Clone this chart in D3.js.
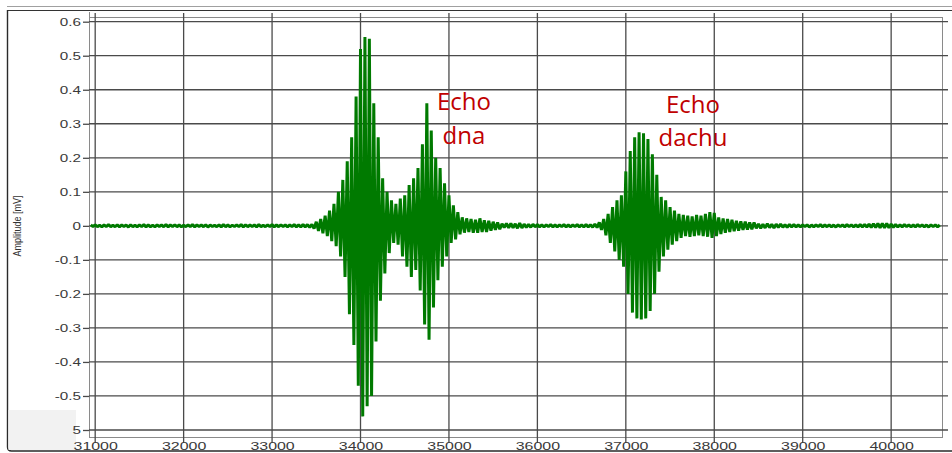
<!DOCTYPE html>
<html>
<head>
<meta charset="utf-8">
<script src="https://cdn.jsdelivr.net/npm/d3@7/dist/d3.min.js"></script>
<style>
  html, body { margin: 0; padding: 0; background: #fff; }
  svg { display: block; }
</style>
</head>
<body>
<svg id="chart" width="952" height="453"></svg>
<script>
// ---- Axis ticks -------------------------------------------------------
const xTicks = [31000, 32000, 33000, 34000, 35000, 36000, 37000, 38000, 39000, 40000];
const xTickLabels = ["31000", "32000", "33000", "34000", "35000", "36000", "37000", "38000", "39000", "40000"];
const yTicks = [0.6, 0.5, 0.4, 0.3, 0.2, 0.1, 0, -0.1, -0.2, -0.3, -0.4, -0.5, -0.6];
const yTickLabels = ["0.6", "0.5", "0.4", "0.3", "0.2", "0.1", "0", "-0.1", "-0.2", "-0.3", "-0.4", "-0.5", "5"];
const yTitle = "Amplitude [mV]";

// ---- Received signal: alternating peak samples (mV) ------------------
const sampleStart = 30950;
const sampleStep = 25;

const noiseBefore = [
  0.0025,-0.002,0.003,-0.0025,0.002,-0.003,0.0025,-0.002,0.0035,-0.0025,0.002,-0.0025,0.003,-0.003,0.0025,-0.002,0.0025,-0.0035,0.003,-0.0025,
  0.002,-0.0025,0.0025,-0.002,0.0035,-0.003,0.0025,-0.0025,0.002,-0.003,0.003,-0.002,0.0025,-0.0025,0.004,-0.003,0.0025,-0.002,0.003,-0.0025,
  0.0025,-0.003,0.002,-0.0025,0.003,-0.0025,0.0035,-0.003,0.0025,-0.002,0.0025,-0.0025,0.003,-0.0035,0.0025,-0.002,0.002,-0.0025,0.003,-0.003,
  0.0035,-0.0025,0.0025,-0.003,0.002,-0.002,0.003,-0.0025,0.004,-0.0035,0.003,-0.0025,0.0025,-0.002,0.0025,-0.003,0.0035,-0.0025,0.002,-0.0025,
  0.003,-0.0025,0.0035,-0.003,0.0025,-0.0025,0.003,-0.002,0.0025,-0.003,0.003,-0.0025,0.0035,-0.003,0.003,-0.0035,0.004,-0.003,0.0035,-0.004,0.004
];
const transmitPulse = [
  -0.008,0.012,-0.015,0.02,-0.022,0.03,-0.03,0.045,-0.045,0.065,
  -0.06,0.1,-0.09,0.135,-0.15,0.19,-0.26,0.26,-0.35,0.38,
  -0.47,0.52,-0.56,0.555,-0.53,0.55,-0.5,0.36,-0.34,0.26,
  -0.22,0.14,-0.14,0.1,-0.08,0.075,-0.05,0.065,-0.055,0.08
];
const bottomEcho = [
  -0.09,0.09,-0.12,0.12,-0.15,0.14,-0.13,0.17,-0.19,0.24,
  -0.29,0.36,-0.335,0.28,-0.24,0.2,-0.16,0.17,-0.12,0.125,
  -0.09,0.09,-0.05,0.06,-0.04,0.04,-0.025,0.025,-0.02,0.022
];
const bottomTail = [
  -0.018,0.02,-0.02,0.018,-0.02,0.022,-0.018,0.016,-0.018,0.015,-0.014,0.012,-0.012,0.01,-0.01
];
const noiseBetween = [
  0.006,-0.005,0.007,-0.006,0.007,-0.006,0.006,-0.007,0.008,-0.006,
  0.005,-0.0045,0.004,-0.004,0.0045,-0.003,0.0035,-0.003,0.003,-0.0035,
  0.003,-0.0025,0.0035,-0.003,0.0025,-0.003,0.003,-0.0025,0.0035,-0.003,
  0.0025,-0.003,0.003,-0.0025,0.0035,-0.003,0.003,-0.0035,0.004,-0.0035,
  0.0035,-0.004,0.005,-0.005
];
const roofEcho = [
  0.01,-0.012,0.02,-0.028,0.035,-0.05,0.055,-0.075,0.075,-0.1,
  0.09,-0.12,0.16,-0.2,0.22,-0.255,0.26,-0.272,0.275,-0.275,
  0.272,-0.272,0.255,-0.25,0.21,-0.2,0.15,-0.135,0.085,-0.09,
  0.075,-0.07,0.055,-0.055,0.045,-0.045,0.035,-0.035,0.032,-0.03,
  0.03,-0.032,0.028,-0.03,0.032,-0.028,0.03,-0.03,0.035,-0.032,
  0.04,-0.035,0.038,-0.03,0.025,-0.024,0.022,-0.02,0.02,-0.018,
  0.018,-0.016,0.015,-0.014,0.013,-0.012,0.012,-0.011,0.01,-0.01,0.01
];
const noiseAfter = [
  -0.007,0.006,-0.007,0.005,-0.006,0.006,-0.005,0.0045,-0.006,0.005,-0.0045,0.005,-0.004,0.0035,-0.004,0.004,-0.003,0.0035,-0.003,0.0025,
  -0.003,0.003,-0.0025,0.003,-0.0035,0.0025,-0.003,0.003,-0.0025,0.0035,-0.003,0.0025,-0.0025,0.003,-0.003,0.0025,-0.0035,0.003,-0.0025,0.003,
  -0.003,0.0035,-0.0025,0.003,-0.003,0.0025,-0.003,0.0035,-0.003,0.004,-0.0035,0.005,-0.0045,0.006,-0.005,0.007,-0.006,0.0075,-0.006,0.007,
  -0.0055,0.005,-0.0045,0.004,-0.0035,0.003,-0.003,0.0035,-0.0025,0.003,-0.003,0.0025,-0.003,0.0035,-0.0025,0.003,-0.003,0.0025,-0.0035,0.003,-0.0025,0.003,-0.003,0.0025
];
const amplitude = [...noiseBefore, ...transmitPulse, ...bottomEcho, ...bottomTail,
                   ...noiseBetween, ...roofEcho, ...noiseAfter];

// ---- Echo annotations --------------------------------------------------
const annotationLines = [["Echo", "dna"], ["Echo", "dachu"]];
const annotationX = [35170, 37760];
const annotationY = [0.34, 0.332];

// ---- Layout --------------------------------------------------------------
const svg = d3.select("#chart");
const plot = { left: 89, right: 942, top: 17, bottom: 437 };

const x = d3.scaleLinear().domain([30930, 40575]).range([plot.left, plot.right]);
const y = d3.scaleLinear().domain([-0.6206, 0.6138]).range([plot.bottom, plot.top]);

const gridColor = "#4a4a4a";
const labelFont = "'Liberation Sans', Arial, sans-serif";

// outer window frame
svg.append("line").attr("x1", 7).attr("x2", 952).attr("y1", 6.5).attr("y2", 6.5)
  .attr("stroke", "#a0a0a0").attr("stroke-width", 1);
svg.append("line").attr("x1", 7).attr("x2", 952).attr("y1", 10.5).attr("y2", 10.5)
  .attr("stroke", "#333").attr("stroke-width", 1.2);
svg.append("path").attr("d", "M7.5,10 L7.5,447 Q7.5,451 11.5,451 L952,451")
  .attr("fill", "none").attr("stroke", "#2a2a2a").attr("stroke-width", 1.4);

// faint panel in the lower left corner
svg.append("rect").attr("x", 8.5).attr("y", 410).attr("width", 67.5).attr("height", 40)
  .attr("fill", "#f2f2f2");

// plot frame
svg.append("rect")
  .attr("x", plot.left + 0.5).attr("y", plot.top + 0.5)
  .attr("width", plot.right - plot.left).attr("height", plot.bottom - plot.top)
  .attr("fill", "none").attr("stroke", "#8a8a8a").attr("stroke-width", 1);
svg.append("line").attr("x1", plot.left + 0.5).attr("x2", plot.left + 0.5)
  .attr("y1", 12).attr("y2", plot.top).attr("stroke", "#8a8a8a");

// vertical grid lines (extend slightly past the frame as ticks)
svg.append("g").selectAll("line").data(xTicks).join("line")
  .attr("x1", d => x(d)).attr("x2", d => x(d))
  .attr("y1", 13).attr("y2", 443)
  .attr("stroke", gridColor).attr("stroke-width", 1.3);

// horizontal grid lines
svg.append("g").selectAll("line").data(yTicks).join("line")
  .attr("x1", plot.left).attr("x2", 948)
  .attr("y1", d => y(d)).attr("y2", d => y(d))
  .attr("stroke", gridColor).attr("stroke-width", 1.3);

// left axis: tick marks and labels
const yAxis = d3.axisLeft(y).tickValues(yTicks).tickSize(6).tickPadding(0)
  .tickFormat((d, i) => yTickLabels[i]);
const gy = svg.append("g").attr("transform", `translate(${plot.left},0)`).call(yAxis);
gy.select(".domain").remove();
gy.selectAll(".tick line").attr("stroke", gridColor).attr("stroke-width", 1.3);
gy.selectAll(".tick text")
  .attr("x", null).attr("dy", "0.36em")
  .attr("transform", "translate(-8,0) scale(1.45,1)")
  .attr("font-family", labelFont).attr("font-size", 10.5)
  .attr("fill", "#3a3a3a").attr("text-anchor", "end");

// bottom axis labels
const xAxis = d3.axisBottom(x).tickValues(xTicks).tickSize(0).tickPadding(0)
  .tickFormat((d, i) => xTickLabels[i]);
const gx = svg.append("g").attr("transform", `translate(0,${plot.bottom})`).call(xAxis);
gx.select(".domain").remove();
gx.selectAll(".tick text")
  .attr("y", null).attr("dy", null)
  .attr("transform", "translate(0,13) scale(1.45,1)")
  .attr("font-family", labelFont).attr("font-size", 11)
  .attr("fill", "#3a3a3a").attr("text-anchor", "middle");

// y axis title
svg.append("text")
  .attr("transform", "translate(21,226) rotate(-90) scale(1,1.3)")
  .attr("text-anchor", "middle")
  .attr("font-family", labelFont).attr("font-size", 9)
  .attr("fill", "#333")
  .text(yTitle);

// signal trace
svg.append("clipPath").attr("id", "plot-clip")
  .append("rect").attr("x", plot.left + 1).attr("y", plot.top + 1)
  .attr("width", plot.right - plot.left - 1).attr("height", plot.bottom - plot.top - 1);

const trace = d3.line()
  .x((d, i) => x(sampleStart + i * sampleStep))
  .y(d => y(d));

svg.append("path")
  .datum(amplitude)
  .attr("clip-path", "url(#plot-clip)")
  .attr("d", trace)
  .attr("fill", "none")
  .attr("stroke", "#007a00")
  .attr("stroke-width", 3)
  .attr("stroke-linejoin", "bevel");

// echo annotations
const notes = svg.append("g")
  .attr("font-family", "'Open Sans', 'Noto Sans', sans-serif")
  .attr("font-size", 24)
  .attr("fill", "#c00000")
  .attr("text-anchor", "middle");
annotationLines.forEach((lines, k) => {
  const t = notes.append("text")
    .attr("x", x(annotationX[k]))
    .attr("y", y(annotationY[k]));
  lines.forEach((line, j) => {
    t.append("tspan")
      .attr("x", x(annotationX[k]))
      .attr("dy", j === 0 ? 0 : 33.5)
      .text(line);
  });
});
</script>
</body>
</html>
